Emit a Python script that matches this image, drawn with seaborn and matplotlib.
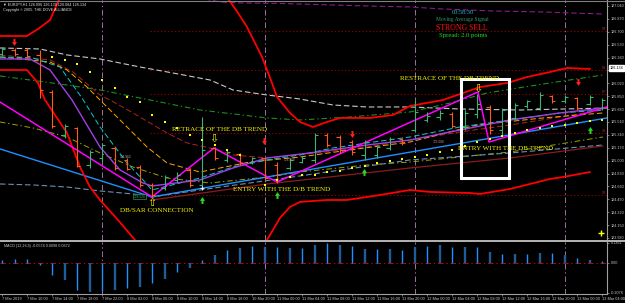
import numpy as np
import matplotlib
matplotlib.use("Agg")
import matplotlib.pyplot as plt
from matplotlib.lines import Line2D
from matplotlib.patches import Rectangle
import seaborn as sns

# =============================================================================
# EURJPY bar chart with MA ribbon, SAR dots and MACD
# x = bar number (one bar = 2 hours), y = price
# =============================================================================

bar_open = [126.407, 126.459, 126.459, 126.394, 125.906, 125.338, 125.431, 124.943, 125.035, 125.167,
            125.009, 124.916, 124.679, 124.639, 124.745, 124.877, 124.679, 125.167, 125.009, 125.088,
            124.982, 125.035, 124.943, 124.903, 124.982, 125.009, 125.338, 125.312, 125.246, 125.075,
            125.075, 125.167, 125.286, 125.404, 125.536, 125.576, 125.615, 125.444, 125.615, 125.708,
            125.404, 125.563, 125.721, 125.694, 125.853, 125.787, 125.826, 125.747, 125.694]
bar_high = [126.499, 126.486, 126.486, 126.459, 125.932, 125.483, 125.444, 125.141, 125.233, 125.180,
            125.035, 124.943, 124.705, 124.811, 124.850, 124.903, 125.576, 125.180, 125.141, 125.101,
            125.048, 125.048, 124.982, 125.035, 125.061, 125.365, 125.365, 125.338, 125.272, 125.272,
            125.206, 125.312, 125.299, 125.800, 125.642, 125.668, 125.642, 125.668, 125.879, 125.734,
            125.694, 125.760, 125.800, 125.906, 125.866, 125.866, 125.840, 125.866, 125.826]
bar_low = [126.380, 126.380, 126.354, 125.826, 125.431, 125.299, 124.916, 124.903, 124.982, 124.877,
           124.877, 124.652, 124.521, 124.613, 124.718, 124.652, 124.639, 125.009, 124.982, 124.943,
           124.956, 124.745, 124.705, 124.877, 124.969, 124.969, 125.180, 125.101, 125.075, 125.009,
           125.035, 125.141, 125.206, 125.378, 125.510, 125.536, 125.431, 125.404, 125.563, 125.352,
           125.338, 125.536, 125.694, 125.668, 125.760, 125.760, 125.668, 125.734, 125.668]
bar_close = [126.473, 126.407, 126.380, 125.932, 125.457, 125.457, 124.929, 125.114, 125.206, 124.903,
             124.890, 124.679, 124.547, 124.784, 124.811, 124.679, 125.141, 125.035, 125.114, 124.969,
             125.035, 124.771, 124.811, 125.009, 125.035, 125.338, 125.206, 125.141, 125.114, 125.246,
             125.180, 125.286, 125.233, 125.642, 125.589, 125.629, 125.457, 125.629, 125.747, 125.404,
             125.668, 125.734, 125.787, 125.866, 125.787, 125.840, 125.694, 125.840, 125.800]

macd_hist = [0.020, 0.026, 0.026, -0.016, -0.085, -0.120, -0.189, -0.200, -0.196, -0.190,
             -0.175, -0.166, -0.142, -0.113, -0.062, -0.035, 0.019, 0.053, 0.088, 0.102,
             0.115, 0.108, 0.108, 0.102, 0.102, 0.122, 0.136, 0.122, 0.115, 0.095,
             0.095, 0.095, 0.088, 0.108, 0.115, 0.122, 0.108, 0.108, 0.108, 0.074,
             0.060, 0.060, 0.060, 0.067, 0.067, 0.053, 0.032, 0.019, 0.012]

time_labels = ["7 Mar 2019", "7 Mar 10:00", "7 Mar 14:00", "7 Mar 18:00", "7 Mar 22:00",
               "8 Mar 02:00", "8 Mar 06:00", "8 Mar 10:00", "8 Mar 14:00", "8 Mar 18:00",
               "10 Mar 20:00", "11 Mar 00:00", "11 Mar 04:00", "11 Mar 08:00", "11 Mar 12:00",
               "11 Mar 16:00", "11 Mar 20:00", "12 Mar 00:00", "12 Mar 04:00", "12 Mar 08:00",
               "12 Mar 12:00", "12 Mar 16:00", "12 Mar 20:00", "13 Mar 00:00", "13 Mar 04:00"]
price_ticks = [127.040, 126.870, 126.700, 126.530, 126.360, 126.190, 126.020, 125.850, 125.680,
               125.510, 125.340, 125.170, 125.000, 124.830, 124.660, 124.490, 124.320, 124.150, 123.980]
macd_ticks = [0.1361, 0.0, -0.2076]
macd_tick_labels = ["0.1361", "0.00", "-0.2076"]
day_breaks = [8, 21, 33, 45]
pivot_levels = [126.710, 126.196, 125.879, 125.365, 124.547]
pivot_names = ["R2", "R1", "PP", "S1", "S2"]

# moving averages / bands / trend lines: (bar position, price)
gray_x = [-0.16, 3.04, 5.2, 7.84, 11.04, 13.68, 16.64, 18.48, 21.2, 23.84, 26.48, 29.2, 32.64, 36.64, 41.44, 48.4]
gray_y = [126.486, 126.473, 126.394, 126.341, 126.235, 126.156, 126.064, 125.932, 125.866, 125.813,
          125.734, 125.708, 125.708, 125.681, 125.668, 125.694]
purple_x = [16.24, 17.44, 19.28, 22.0, 23.84, 26.48, 29.2, 32.64, 35.28, 39.28, 43.28, 48.08]
purple_y = [127.132, 127.093, 127.079, 127.075, 127.066, 127.053, 127.040, 127.027, 127.000, 126.974, 126.961, 126.934]
green_x = [-0.16, 5.2, 7.84, 11.84, 15.84, 21.2, 23.84, 27.84, 32.64, 35.84, 38.8, 43.28, 48.08]
green_y = [126.117, 125.998, 125.932, 125.800, 125.668, 125.563, 125.536, 125.576, 125.642, 125.760,
           125.892, 126.011, 126.130]
band_up_x = [-0.16, 2, 2.88, 3.84, 4.48, 5.12, 17.04, 18.16, 18.88, 19.6, 20.24, 20.8, 21.2, 21.6, 22,
             23.04, 23.84, 24.88, 26, 27.04, 29.44, 31.28, 32.64, 35.28, 38.24, 40.4, 42, 43.84, 45.2, 47.04]
band_up_y = [126.644, 126.644, 126.736, 126.855, 127.093, 127.317, 127.317, 127.119, 126.948, 126.763,
             126.552, 126.367, 126.196, 126.024, 125.840, 125.629, 125.510, 125.444, 125.510, 125.563,
             125.563, 125.602, 125.721, 125.800, 125.971, 126.024, 126.103, 126.169, 126.222, 126.209]
band_lo_x = [-0.16, 2, 2.88, 3.44, 5.2, 6.24, 7.04, 7.84, 9.28, 10.64, 11.12, 20.48, 21.2, 22.24, 23.04,
             23.84, 26, 27.6, 30.24, 32.64, 34.24, 37.44, 38.24, 40.64, 43.84, 44.88, 47.04]
band_lo_y = [126.196, 126.196, 126.024, 125.800, 125.365, 124.916, 124.652, 124.481, 124.217, 123.953,
             123.756, 123.756, 123.953, 124.244, 124.389, 124.455, 124.481, 124.481, 124.547, 124.613,
             124.587, 124.573, 124.560, 124.626, 124.758, 124.784, 124.850]
zigzag_x = [-0.16, 12, 16.96, 22, 38.08, 38.96, 48.4]
zigzag_y = [125.773, 124.521, 125.167, 124.718, 125.906, 125.246, 125.708]
violet_x = [-0.16, 2.24, 3.84, 5.6, 7.84, 9.44, 11.28, 12, 15.84, 18.48, 21.2, 24.64, 29.2, 32.64,
            36.64, 40.64, 44.64, 48.08]
violet_y = [126.341, 126.341, 126.196, 125.800, 125.180, 124.877, 124.705, 124.666, 124.745, 124.903,
            125.035, 125.101, 125.206, 125.272, 125.404, 125.536, 125.629, 125.694]
blue_x = [-0.16, 12, 48.4]
blue_y = [125.154, 124.521, 125.563]
steel_x = [-0.16, 2.48, 5.2, 7.84, 10.48, 12, 15.84, 23.84, 32.64, 40.64, 48.08]
steel_y = [124.692, 124.679, 124.652, 124.600, 124.560, 124.521, 124.613, 124.798, 125.009, 125.101, 125.206]
cyan_x = [-0.16, 2.48, 4.64, 6.4, 7.84, 10, 11.28, 12, 15.84, 18.48, 21.2, 23.84, 26.48, 29.2, 32.64,
          36.64, 40.64, 44.64, 48.08]
cyan_y = [126.367, 126.354, 126.235, 125.826, 125.444, 124.969, 124.745, 124.613, 124.771, 124.916,
          125.009, 125.075, 125.167, 125.233, 125.312, 125.444, 125.536, 125.629, 125.668]
orange_x = [-0.16, 3.84, 5.2, 6.8, 7.84, 10, 11.6, 13.2, 15.84, 19.84, 23.84, 27.84, 32.64, 38, 43.28, 48.08]
orange_y = [126.367, 126.301, 126.196, 125.971, 125.800, 125.444, 125.180, 124.969, 124.850, 124.982,
            125.048, 125.141, 125.246, 125.470, 125.563, 125.629]
dred_x = [-0.16, 3.84, 5.68, 7.84, 8.64, 10.48, 13.2, 14.8, 16.64, 18.48, 21.2, 25.2, 29.2, 32.64,
          36.64, 40.64, 44.64, 48.08]
dred_y = [126.394, 126.328, 126.169, 125.866, 125.800, 125.629, 125.365, 125.233, 125.167, 125.075,
          125.035, 125.101, 125.180, 125.272, 125.378, 125.470, 125.576, 125.668]
olive_x = [-0.16, 2.48, 5.2, 7.84, 10.48, 13.2, 16.64, 21.2, 23.84, 29.2, 32.64, 40.64, 48.08]
olive_y = [125.510, 125.431, 125.312, 125.101, 124.916, 124.771, 124.705, 124.784, 124.850, 124.943,
           124.982, 125.114, 125.312]
maroon_x = [12, 21.2, 32.64, 40.64, 48.08]
maroon_y = [124.481, 124.692, 124.903, 125.035, 125.193]

sar_x = list(range(4, 20)) + list(range(21, 49))
sar_y = [126.367, 126.328, 126.275, 126.169, 126.064, 125.958, 125.840, 125.773, 125.602, 125.510,
         125.431, 125.338, 125.272, 125.206, 125.141, 125.075,
         124.679, 124.745, 124.784, 124.811, 124.811, 124.850, 124.864, 124.903, 124.929, 124.969,
         124.995, 125.022, 125.048, 125.075, 125.114, 125.141, 125.193, 125.246, 125.286, 125.325,
         125.365, 125.404, 125.431, 125.457, 125.470, 125.497, 125.523, 125.536]

sell_x = [0.96, 20.96, 28.0, 46.08]
sell_y = [126.565, 125.259, 125.352, 126.037]
buy_x = [16.0, 22.0, 28.96, 47.04]
buy_y = [124.481, 124.547, 124.850, 125.404]

# ---- style ----
sns.set_theme(style="dark", rc={"axes.facecolor": "black", "figure.facecolor": "black",
                                "axes.grid": False})
plt.rcParams["font.family"] = ["Liberation Sans", "DejaVu Sans"]
plt.rcParams["lines.scale_dashes"] = False

W, H = 625, 303
fig = plt.figure(figsize=(W / 100, H / 100), dpi=100)


def px_box(x0, y0, x1, y1):
    return [x0 / W, 1 - y1 / H, (x1 - x0) / W, (y1 - y0) / H]


ax = fig.add_axes(px_box(0, 0, 607, 240))
ax2 = fig.add_axes(px_box(0, 242, 607, 294))

DASH = (0, (4, 2))
DASHDOT = (0, (4, 2, 1, 2))


def ma(xs, ys, color, ls="-", lw=0.7):
    sns.lineplot(x=xs, y=ys, ax=ax, color=color, linestyle=ls, linewidth=lw,
                 sort=False, estimator=None, legend=False)


# day separators and pivots
for a in (ax, ax2):
    for d in day_breaks:
        a.axvline(d, color="#A070A0", lw=0.7, linestyle=DASHDOT, zorder=1)
ax.hlines(pivot_levels, 11.84, 48.4, colors="#8B0000", linestyles=(0, (1, 1.5)), lw=0.7, zorder=1)
for lvl, name in zip(pivot_levels, pivot_names):
    ax.text(48.3, lvl, name, color="#B22222", fontsize=2.5, ha="right", va="bottom")

# indicator lines
ma(purple_x, purple_y, "#8B1A8B", DASH, 0.8)
ma(gray_x, gray_y, "#C8C8C8", DASH, 0.8)
ma(green_x, green_y, "#1E8C1E", DASHDOT, 0.8)
ma(olive_x, olive_y, "#A0A000", DASHDOT, 0.7)
ma(steel_x, steel_y, "#6A8FB5", DASH, 0.8)
ma(maroon_x, maroon_y, "#8B1C1C", "-", 0.9)
ma(dred_x, dred_y, "#B22222", DASH, 0.7)
ma(orange_x, orange_y, "#FFA500", DASH, 0.7)
ma(cyan_x, cyan_y, "#00CED1", DASH, 0.7)
ma(blue_x, blue_y, "#1E90FF", "-", 1.0)
ma(violet_x, violet_y, "#A040E8", "-", 1.0)
ma(band_up_x, band_up_y, "#FF0000", "-", 1.3)
ma(band_lo_x, band_lo_y, "#FF0000", "-", 1.3)

# OHLC bars
x = np.arange(len(bar_open))
up = np.array(bar_close) >= np.array(bar_open)
cols = np.where(up, "#3CB371", "#FF5A1E")
ax.vlines(x, bar_low, bar_high, colors=cols, lw=0.8, zorder=4)
ax.hlines(bar_open, x - 0.26, x, colors=cols, lw=0.8, zorder=4)
ax.hlines(bar_close, x, x + 0.26, colors=cols, lw=0.8, zorder=4)

ma(zigzag_x, zigzag_y, "#FF00FF", "-", 1.1)

sns.scatterplot(x=sar_x, y=sar_y, ax=ax, color="#FFFF00", s=4, marker="s", linewidth=0,
                legend=False, zorder=5)

arrow = [(-0.3, 1), (0.3, 1), (0.3, 0.1), (0.75, 0.1), (0, -1), (-0.75, 0.1), (-0.3, 0.1)]
arrow_up = [(vx, -vy) for vx, vy in arrow]
ax.scatter(sell_x, sell_y, marker=arrow, s=24, color="#FF2020", linewidths=0, zorder=6)
ax.scatter(buy_x, buy_y, marker=arrow_up, s=24, color="#22DD22", linewidths=0, zorder=6)
ax.scatter([16.0], [124.639], marker="+", s=8, color="white", linewidths=0.6, zorder=6)
ax.scatter([47.92], [124.046], marker="+", s=14, color="#FFFF00", linewidths=1.0, zorder=6)

# annotations
note = dict(color="#F2F200", fontsize=5.1, family=["Liberation Serif", "DejaVu Serif"],
            va="center", ha="left", zorder=8)
ax.text(13.6, 125.417, "RETRACE OF THE DB TREND", **note)
ax.text(9.44, 124.336, "DB/SAR CONNECTION", **note)
ax.text(18.48, 124.613, "ENTRY WITH THE D/B TREND", **note)
ax.text(31.84, 126.090, "RESTRACE OF THE DB TREND", **note)
ax.text(36.48, 125.154, "ENTRY WITH THE DB TREND", **note)
sym = dict(color="#F2F200", fontsize=8, family="DejaVu Sans", ha="center", va="center", zorder=8)
ax.text(16.96, 125.286, "\u21e9", **sym)
ax.text(38.08, 125.945, "\u21e9", **sym)
ax.text(12.0, 124.441, "\u21e7", **sym)

small = dict(fontsize=2.3, ha="center", va="center", zorder=7)
ax.text(9.9, 125.048, "124.962", color="#B0B0B0", **small)
ax.text(11.0, 124.521, "124.520", color="#3CB371",
        bbox=dict(boxstyle="square,pad=0.15", fc="black", ec="#3CB371", lw=0.4), **small)
ax.text(23.0, 125.009, "124.968", color="#C09090", **small)
ax.text(34.9, 125.246, "125.088", color="#C09090", **small)

ax.add_patch(Rectangle((36.72, 124.771), 3.84, 1.306, fill=False, ec="white", lw=2.2, zorder=7))

# axes
ax.set_xlim(-0.16, 48.4)
ax.set_ylim(123.953, 127.119)
ax2.set_xlim(-0.16, 48.4)
ax2.set_ylim(-0.216, 0.143)

# MACD histogram
bright = [(k % 2 == 0) or k < 4 for k in range(len(macd_hist))]
mcols = ["#1E90FF" if b else "#1F5C99" for b in bright]
mlw = [1.0 if b else 1.7 for b in bright]
ax2.vlines(x, 0, macd_hist, colors=mcols, linewidths=mlw, zorder=3)
ax2.axhline(0, color="#A01010", lw=0.8, linestyle=DASHDOT, zorder=2)

for a in (ax, ax2):
    a.set_xlabel("")
    a.set_ylabel("")
    for s in ("left", "top", "bottom"):
        a.spines[s].set_visible(False)
    a.spines["right"].set_visible(True)
    a.spines["right"].set_color("#A0A0A0")
    a.spines["right"].set_linewidth(0.8)
    a.yaxis.tick_right()
    a.tick_params(axis="y", which="both", right=True, left=False, labelright=True, labelleft=False,
                  length=1.5, width=0.5, color="#A0A0A0", labelsize=2.7, labelcolor="#C8C8C8", pad=1.2)

ax.set_yticks(price_ticks)
ax.set_yticklabels([f"{t:.3f}" for t in price_ticks])
ax.set_xticks([])
ax2.set_yticks(macd_ticks)
ax2.set_yticklabels(macd_tick_labels)
ax2.spines["bottom"].set_visible(True)
ax2.spines["bottom"].set_color("#A0A0A0")
ax2.spines["bottom"].set_linewidth(0.8)
ax2.set_xticks(np.arange(0, 49, 2))
ax2.set_xticklabels(time_labels, ha="left")
ax2.tick_params(axis="x", bottom=True, length=1.5, width=0.5, color="#A0A0A0",
                labelsize=2.8, labelcolor="#C8C8C8", pad=0.8)

# current price box on the scale
ax.text(1.004, 126.222, "126.134", transform=ax.get_yaxis_transform(), fontsize=2.7,
        color="black", va="center", ha="left",
        bbox=dict(boxstyle="square,pad=0.15", fc="white", ec="white"))

# frame lines
fig.add_artist(Line2D([0, 1], [1 - 240.8 / H] * 2, color="#B4B4B4", lw=1.4))
fig.add_artist(Line2D([0, 1], [1 - 0.5 / H] * 2, color="#808080", lw=0.8))

# header and info panel texts
fig.text(3 / W, 1 - 4.5 / H, "\u25bc EURJPY,H1 126.096 126.139 126.084 126.134", color="#E0E0E0",
         fontsize=2.7, va="center", ha="left")
fig.text(3 / W, 1 - 9.5 / H, "Copyright \u00a9 2005, THE DOVE ALLIANCE", color="#E0E0E0",
         fontsize=2.7, va="center", ha="left")
info = dict(ha="center", va="center", family=["Liberation Serif", "DejaVu Serif"])
fig.text(463 / W, 1 - 13 / H, "00:58:30", color="#22B8D8", fontsize=4.4, **info)
fig.text(462 / W, 1 - 20 / H, "Moving Average Signal", color="#2E9B67", fontsize=4.0, **info)
fig.text(462 / W, 1 - 28 / H, "STRONG SELL", color="#FF1010", fontsize=5.6, **info)
fig.text(463 / W, 1 - 36 / H, "Spread: 2.0 points", color="#22DD22", fontsize=4.8, **info)
fig.text(4 / W, 1 - 245.5 / H, "MACD (12,26,9) -0.0574 0.0098 0.0672", color="#C8C8C8",
         fontsize=2.7, va="center", ha="left")

fig.savefig("out.png", dpi=100, facecolor="black")
